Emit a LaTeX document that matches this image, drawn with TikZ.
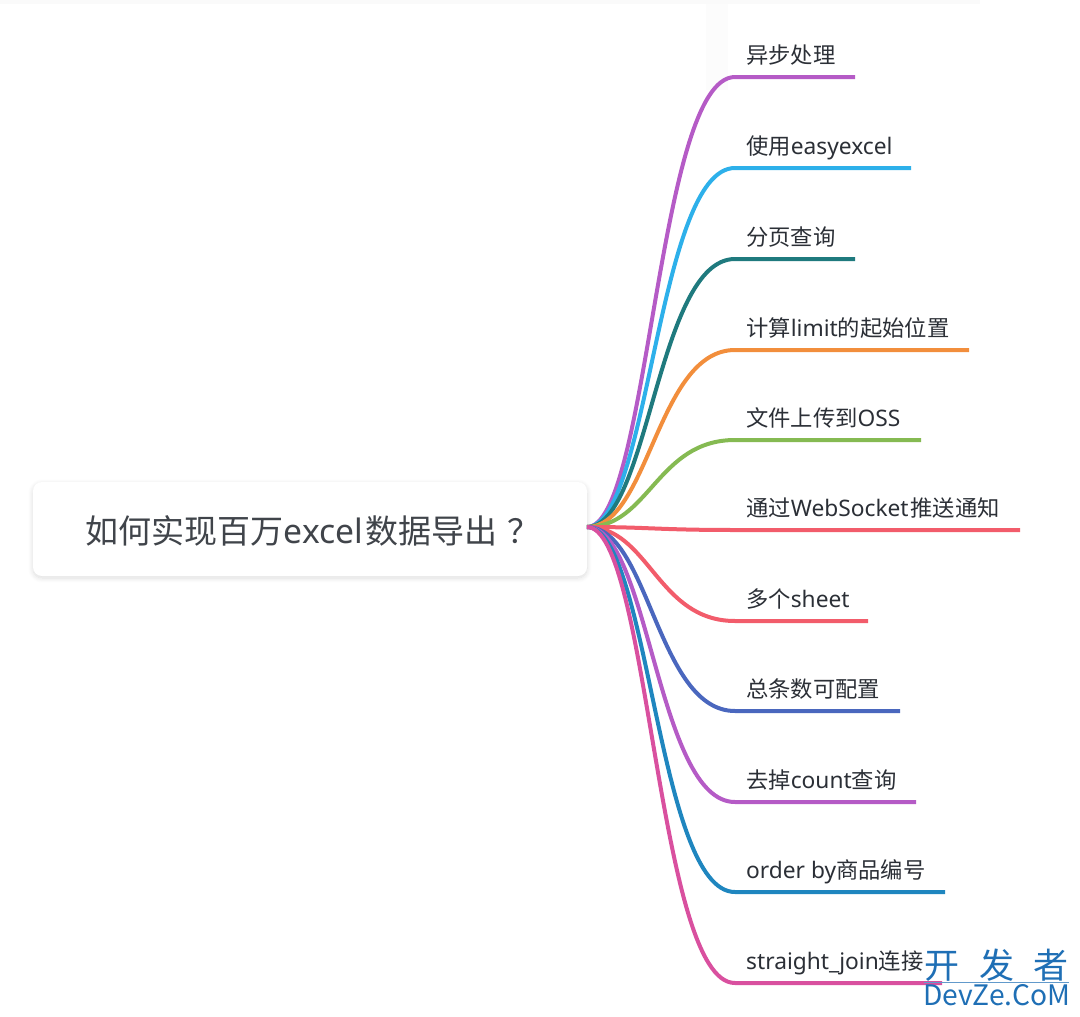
\documentclass[tikz,border=0pt]{standalone}
\usepackage{fontspec}
\setmainfont{Noto Sans CJK SC}
\newfontfamily\lat[Scale=1.02]{Noto Sans}
\usetikzlibrary{shadows.blur,calc}
\definecolor{cA}{HTML}{B55BC6}
\definecolor{cB}{HTML}{2DB0EA}
\definecolor{cC}{HTML}{1F7A7E}
\definecolor{cD}{HTML}{F28E3C}
\definecolor{cE}{HTML}{85BA52}
\definecolor{cF}{HTML}{F25C6B}
\definecolor{cG}{HTML}{4A67BE}
\definecolor{cH}{HTML}{1F86BF}
\definecolor{cI}{HTML}{D9509F}
\definecolor{inkc}{HTML}{2B2F36}
\definecolor{markc}{HTML}{1F6FB5}
\tikzset{
  rootbox/.style={draw=none,fill=white,rounded corners=9pt,minimum width=554pt,minimum height=94pt,inner sep=0pt,
    blur shadow={shadow xshift=0pt,shadow yshift=-2pt,shadow blur radius=5pt,shadow blur steps=10,shadow opacity=14}},
  leaflabel/.style={anchor=base west,inner sep=0pt,text=inkc,font=\fontsize{22.3}{26}\selectfont},
  branch/.style={line width=4pt,line cap=butt},
  wmark/.style={inner sep=0pt,text=markc,anchor=base west}
}
\begin{document}
\begin{tikzpicture}[x=1pt,y=-1pt]
\useasboundingbox (0,0) rectangle (1080,1017);
\fill[black!2] (0,0) rectangle (980,4);
\fill[black!1.2] (706,4) rectangle (728,90);
\node[rootbox] (root) at (310,529) {};
\node[inner sep=0pt,anchor=base west,text=inkc!90,font=\fontsize{33}{38}\selectfont] (title) at (85.5,543) {如何实现百万{\lat excel}\hspace{3pt}数据导出\hspace{10pt}？};
\foreach \i/\txt/\yy/\xe/\col in {
 1/异步处理/77/855/cA,
 2/使用{\lat easyexcel}/168/911/cB,
 3/分页查询/259/855/cC,
 4/计算{\lat limit}的起始位置/350/969/cD,
 5/文件上传到{\lat OSS}/440/921/cE,
 6/通过{\lat WebSocket}\hspace{2pt}推送通知/530/1020/cF,
 7/多个{\lat sheet}/621/868/cF,
 8/总条数可配置/711/900/cG,
 9/去掉{\lat count}查询/802/916/cA,
 10/{\lat order by}商品编号/892/945/cH,
 11/{\lat straight\_join}连接/983/942/cI}{
  \coordinate (bend\i) at (735,\yy);
  \coordinate (tip\i) at (\xe,\yy);
  \coordinate (start\i) at (587,527);
  \draw[branch,\col] (start\i) .. controls ($(start\i)+(62,0)$) and ($(bend\i)+(-78,0)$) .. (bend\i) -- (tip\i);
  \node[leaflabel] (leaf\i) at (746,\yy-13.5) {\txt};
}
\node[wmark,font=\fontsize{35}{40}\selectfont] (wma) at (924,978.5) {开\hspace{20pt}发\hspace{19pt}者};
\coordinate (wl) at (924,982); \coordinate (wr) at (1069,982);
\draw[markc!70,line width=.6pt] (wl) -- (wr);
\node[wmark,font=\fontsize{28.2}{32}\selectfont] (wmb) at (923,1005) {DevZe.CoM};
\end{tikzpicture}
\end{document}
